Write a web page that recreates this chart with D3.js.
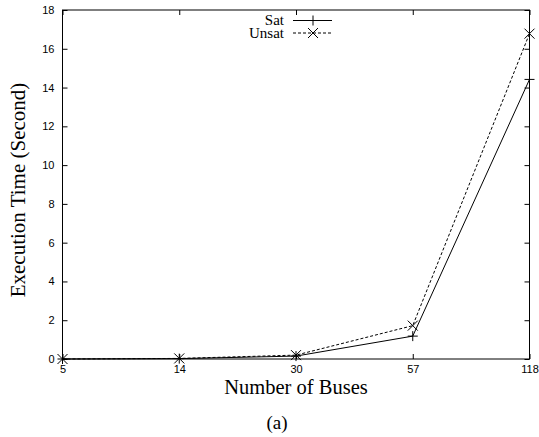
<!DOCTYPE html>
<html>
<head>
<meta charset="utf-8">
<script src="https://cdn.jsdelivr.net/npm/d3@7"></script>
<style>
  html, body { margin: 0; padding: 0; background: #fff; }
  svg { display: block; }
</style>
</head>
<body>
<svg id="chart" width="539" height="437"></svg>
<script>
// Execution time per bus system size
const buses = ["5", "14", "30", "57", "118"];
const satTimes = [0.0, 0.02, 0.15, 1.18, 14.42];
const unsatTimes = [0.0, 0.03, 0.2, 1.72, 16.78];
const yTicks = [0, 2, 4, 6, 8, 10, 12, 14, 16, 18];

const svg = d3.select("#chart");
const plotLeft = 62.5, plotRight = 529.5, plotTop = 10, plotBottom = 359;

const x = d3.scalePoint().domain(buses).range([plotLeft, plotRight]);
const y = d3.scaleLinear().domain([0, 18]).range([plotBottom, plotTop]);

const tickLen = 5;
const axisG = svg.append("g");

// frame
axisG.append("rect")
  .attr("x", plotLeft).attr("y", plotTop)
  .attr("width", plotRight - plotLeft).attr("height", plotBottom - plotTop)
  .attr("fill", "none").attr("stroke", "#000").attr("stroke-width", 1);

// y axis (ticks drawn inward, mirrored on the right)
const yAxis = d3.axisLeft(y).tickValues(yTicks).tickSize(-tickLen).tickPadding(tickLen + 3);
const gy = axisG.append("g").attr("transform", `translate(${plotLeft},0)`).call(yAxis);
const yAxisR = d3.axisRight(y).tickValues(yTicks).tickSize(-tickLen).tickFormat("");
const gyr = axisG.append("g").attr("transform", `translate(${plotRight},0)`).call(yAxisR);

// x axis (ticks inward, mirrored on top)
const xAxis = d3.axisBottom(x).tickSize(-tickLen).tickPadding(tickLen + 1);
const gx = axisG.append("g").attr("transform", `translate(0,${plotBottom})`).call(xAxis);
const xAxisT = d3.axisTop(x).tickSize(-tickLen).tickFormat("");
const gxt = axisG.append("g").attr("transform", `translate(0,${plotTop})`).call(xAxisT);

[gy, gyr, gx, gxt].forEach(g => {
  g.select(".domain").remove();
  g.selectAll("line").attr("stroke", "#000");
  g.selectAll("text")
    .attr("font-family", "'Liberation Sans', Arial, sans-serif")
    .attr("font-size", 11)
    .attr("fill", "#000");
});

// series lines
const line = d3.line().x((d, i) => x(buses[i])).y(d => y(d));

svg.append("path").datum(satTimes)
  .attr("d", line).attr("fill", "none")
  .attr("stroke", "#000").attr("stroke-width", 1);

svg.append("path").datum(unsatTimes)
  .attr("d", line).attr("fill", "none")
  .attr("stroke", "#000").attr("stroke-width", 1)
  .attr("stroke-dasharray", "3,2");

// markers
const m = 5;
function plus(g, cx, cy) {
  g.append("path")
    .attr("d", `M${cx - m},${cy}H${cx + m}M${cx},${cy - m}V${cy + m}`)
    .attr("stroke", "#000").attr("stroke-width", 1).attr("fill", "none");
}
function cross(g, cx, cy) {
  g.append("path")
    .attr("d", `M${cx - m},${cy - m}L${cx + m},${cy + m}M${cx - m},${cy + m}L${cx + m},${cy - m}`)
    .attr("stroke", "#000").attr("stroke-width", 1).attr("fill", "none");
}
const markG = svg.append("g");
satTimes.forEach((v, i) => plus(markG, x(buses[i]), y(v)));
unsatTimes.forEach((v, i) => cross(markG, x(buses[i]), y(v)));

// legend
const serif = "'Liberation Serif', 'Times New Roman', serif";
const legend = svg.append("g");
const legendItems = [
  { label: "Sat", dash: null, mark: plus, y: 20.5 },
  { label: "Unsat", dash: "3,2", mark: cross, y: 33 }
];
legendItems.forEach(it => {
  legend.append("text")
    .attr("x", 284).attr("y", it.y + 4.5)
    .attr("text-anchor", "end")
    .attr("font-family", serif).attr("font-size", 15)
    .text(it.label);
  legend.append("line")
    .attr("x1", 293).attr("x2", 332)
    .attr("y1", it.y).attr("y2", it.y)
    .attr("stroke", "#000").attr("stroke-width", 1)
    .attr("stroke-dasharray", it.dash);
  it.mark(legend, 313, it.y);
});

// axis titles
svg.append("text")
  .attr("x", 296).attr("y", 394)
  .attr("text-anchor", "middle")
  .attr("font-family", serif).attr("font-size", 20.5)
  .text("Number of Buses");

svg.append("text")
  .attr("transform", "translate(25,190) rotate(-90)")
  .attr("text-anchor", "middle")
  .attr("font-family", serif).attr("font-size", 21)
  .text("Execution Time (Second)");

svg.append("text")
  .attr("x", 277).attr("y", 429)
  .attr("text-anchor", "middle")
  .attr("font-family", serif).attr("font-size", 19)
  .text("(a)");
</script>
</body>
</html>
